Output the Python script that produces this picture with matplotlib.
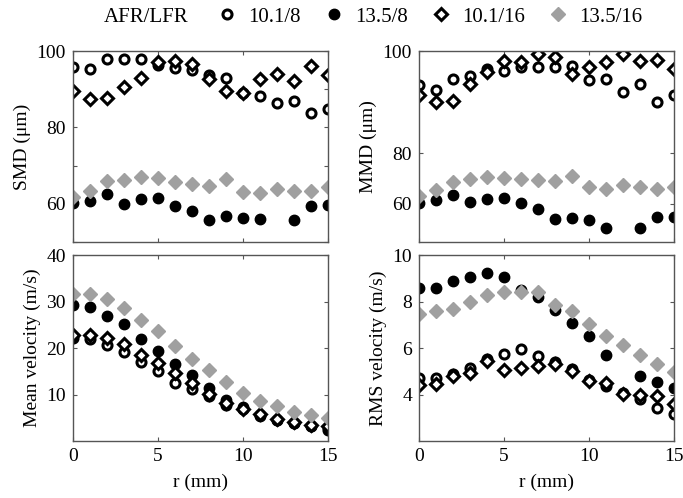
import numpy as np
import matplotlib
matplotlib.use('Agg')
import matplotlib.pyplot as plt

plt.rcParams['font.family'] = ['Liberation Serif', 'DejaVu Serif']
plt.rcParams['font.size'] = 14

# radial position (mm)
r = np.arange(16)
nan = np.nan

labels = ['10.1/8', '13.5/8', '10.1/16', '13.5/16']

# SMD (um)
smd_101_8 = [95.9, 95.2, 97.8, 97.8, 97.8, 96.3, 95.5, 95.0, 93.7, 93.0, 88.9, 88.3, 86.5, 86.8, 83.9, 84.8]
smd_135_8 = [60.3, 60.7, 62.6, 59.9, 61.3, 61.6, 59.4, 58.1, 55.8, 56.9, 56.2, 56.0, nan, 55.8, 59.3, 59.7]
smd_101_16 = [89.6, 87.4, 87.6, 90.7, 93.0, 97.0, 97.5, 96.5, 92.8, 89.6, 88.9, 92.6, 93.9, 92.2, 96.1, 93.7]
smd_135_16 = [61.9, 63.4, 66.0, 66.2, 67.1, 66.8, 65.6, 65.1, 64.7, 66.4, 63.2, 62.7, 63.8, 63.4, 63.4, 64.5]

# MMD (um)
mmd_101_8 = [91.0, 89.9, 92.8, 93.5, 95.4, 94.8, 95.7, 95.7, 95.9, 96.1, 92.4, 92.8, 89.2, 91.3, 86.7, 88.4]
mmd_135_8 = [60.1, 61.0, 62.3, 60.6, 61.3, 61.4, 60.1, 58.6, 56.0, 56.4, 55.7, 53.6, nan, 53.6, 56.6, 56.6]
mmd_101_16 = [88.6, 86.6, 86.9, 91.4, 94.4, 97.4, 97.0, 99.2, 98.3, 93.9, 95.7, 97.2, 99.2, 97.3, 97.7, 95.4]
mmd_135_16 = [62.0, 63.5, 65.7, 66.4, 67.0, 66.7, 66.5, 66.3, 65.9, 67.2, 64.3, 63.9, 65.0, 64.5, 63.9, 64.3]

# mean velocity (m/s)
mean_101_8 = [22.2, 21.9, 20.6, 19.1, 17.0, 15.0, 12.4, 11.1, 9.6, 7.7, 6.8, 5.5, 4.6, 3.9, 3.3, 2.4]
mean_135_8 = [29.3, 28.8, 26.9, 25.1, 22.0, 19.4, 16.6, 14.1, 11.4, 8.9, 7.3, 5.3, 4.6, 3.9, 3.2, 2.8]
mean_101_16 = [22.9, 22.9, 22.2, 20.8, 18.6, 16.8, 14.7, 12.5, 10.2, 8.2, 6.8, 5.7, 4.7, 4.0, 3.5, 3.2]
mean_135_16 = [31.7, 31.6, 30.5, 28.6, 26.0, 23.7, 20.4, 17.6, 15.2, 12.7, 10.4, 8.6, 7.5, 6.3, 5.5, 5.0]

# RMS velocity (m/s)
rms_101_8 = [4.71, 4.71, 4.89, 5.14, 5.53, 5.74, 5.96, 5.67, 5.39, 5.10, 4.64, 4.36, 4.07, 3.81, 3.43, 3.14]
rms_135_8 = [8.60, 8.57, 8.90, 9.07, 9.24, 9.04, 8.50, 8.19, 7.64, 7.07, 6.50, 5.71, nan, 4.81, 4.53, 4.29]
rms_101_16 = [4.40, 4.47, 4.79, 4.93, 5.46, 5.07, 5.14, 5.21, 5.33, 5.00, 4.57, 4.50, 4.04, 4.00, 3.93, 3.57]
rms_135_16 = [7.47, 7.60, 7.67, 8.00, 8.26, 8.40, 8.40, 8.40, 7.86, 7.61, 7.04, 6.53, 6.14, 5.71, 5.33, 4.97]

gray = '#a0a0a0'
styles = [
    dict(marker='o', ms=6.5, mfc='white', mec='black', mew=2.2),
    dict(marker='o', ms=7.5, mfc='black', mec='black', mew=1.0),
    dict(marker='D', ms=5.8, mfc='white', mec='black', mew=2.2),
    dict(marker='D', ms=6.8, mfc=gray, mec=gray, mew=1.0),
]

panels = [
    ('SMD (\u03bcm)', [smd_101_8, smd_135_8, smd_101_16, smd_135_16]),
    ('MMD (\u03bcm)', [mmd_101_8, mmd_135_8, mmd_101_16, mmd_135_16]),
    ('Mean velocity (m/s)', [mean_101_8, mean_135_8, mean_101_16, mean_135_16]),
    ('RMS velocity (m/s)', [rms_101_8, rms_135_8, rms_101_16, rms_135_16]),
]

W, H = 683, 498
fig = plt.figure(figsize=(W / 100, H / 100), dpi=100)
rects = [
    (73, 51, 255, 191), (419, 51, 255, 191),
    (73, 255, 255, 186), (419, 255, 255, 186),
]
axes = []
for (x0, top, w, h) in rects:
    axes.append(fig.add_axes([x0 / W, 1 - (top + h) / H, w / W, h / H]))

for i, (ax, (ylab, series)) in enumerate(zip(axes, panels)):
    for s, st, lab in zip(series, styles, labels):
        ax.plot(r, s, ls='none', label=lab, **st)
    ax.set_xlim(0, 15)
    ax.set_xticks([0, 5, 10, 15])
    ax.set_ylabel(ylab, labelpad=4)
    ax.tick_params(direction='in', top=True, right=True, length=3,
                   width=0.8, color='#555555', pad=5)
    for sp in ax.spines.values():
        sp.set_color('#555555')
        sp.set_linewidth(1.0)
    if i < 2:
        ax.set_xticklabels([])
    else:
        ax.set_xlabel('r (mm)', labelpad=6)

axes[0].set_ylim(50, 100)
axes[0].set_yticks([50, 60, 70, 80, 90, 100])
axes[0].set_yticklabels(['', '60', '', '80', '', '100'])

# the original figure places its "80" label off the linear position
axes[1].set_ylim(50, 100)
axes[1].set_yticks([60, 73.2, 100])
axes[1].set_yticklabels(['60', '80', '100'])

axes[2].set_ylim(0, 40)
axes[2].set_yticks([10, 20, 30, 40])

axes[3].set_ylim(2, 10)
axes[3].set_yticks([4, 6, 8, 10])

fig.text(104 / W, 1 - 17 / H, 'AFR/LFR', ha='left', va='center', fontsize=15)
handles, labs = axes[0].get_legend_handles_labels()
fig.legend(handles, labs, loc='center left', bbox_to_anchor=(219 / W, 1 - 17 / H),
           ncol=4, frameon=False, fontsize=15, handlelength=0.8,
           handletextpad=0.6, columnspacing=1.2, borderaxespad=0, borderpad=0)

fig.savefig('out.png', dpi=100)
